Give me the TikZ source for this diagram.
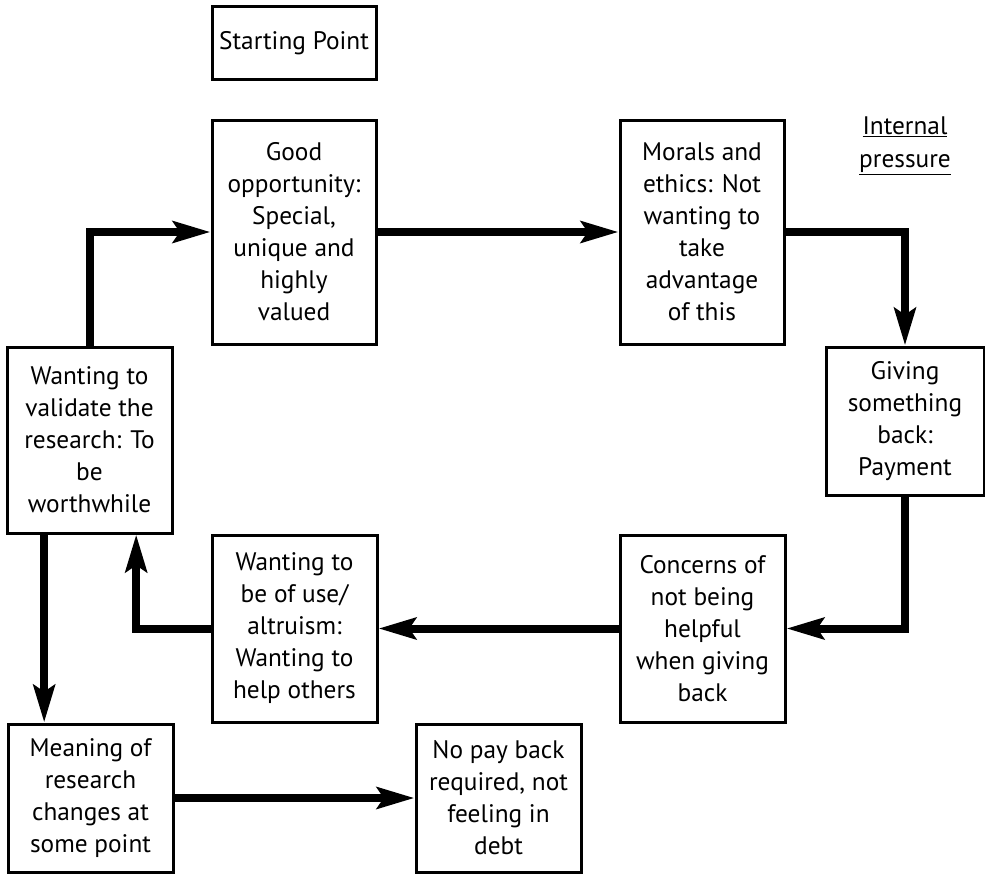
\documentclass[tikz,border=0pt]{standalone}
\usepackage{fontspec}
\setmainfont{PT Sans}
\usetikzlibrary{arrows.meta}
\begin{document}
\begin{tikzpicture}[x=0.75pt,y=-0.75pt,
  box/.style={draw, line width=2.25pt, inner sep=0pt, align=center,
    font=\fontsize{19pt}{24pt}\selectfont},
  conn/.style={line width=6pt, line join=miter,
    -{Stealth[length=28pt,width=16pt,inset=5pt]}},
  lbl/.style={align=center, inner sep=0pt, font=\fontsize{19pt}{25pt}\selectfont}]
\useasboundingbox (0,0) rectangle (985,874);
\node[box, minimum width=123pt, minimum height=54.75pt] (start) at (294,43.5) {Starting Point};
\node[box, minimum width=123pt, minimum height=168pt] (good) at (294,232)
  {Good\\opportunity:\\Special,\\unique and\\highly\\valued};
\node[box, minimum width=123pt, minimum height=168pt] (morals) at (702,232)
  {Morals and\\ethics: Not\\wanting to\\take\\advantage\\of this};
\node[lbl] (internal) at (905,146) {\underline{Internal}\\\underline{pressure}};
\node[box, minimum width=118.5pt, minimum height=111pt] (giving) at (905,421)
  {Giving\\something\\back:\\Payment};
\node[box, minimum width=123.75pt, minimum height=139.5pt] (validate) at (89.5,440)
  {Wanting to\\validate the\\research: To\\be\\worthwhile};
\node[box, minimum width=123.75pt, minimum height=140.25pt] (use) at (294.5,628.5)
  {Wanting to\\be of use/\\altruism:\\Wanting to\\help others};
\node[box, minimum width=123.75pt, minimum height=140.25pt] (concerns) at (702.5,628.5)
  {Concerns of\\not being\\helpful\\when giving\\back};
\node[box, minimum width=123.75pt, minimum height=111pt] (meaning) at (90.5,798)
  {Meaning of\\research\\changes at\\some point};
\node[box, minimum width=123.75pt, minimum height=111pt] (nopay) at (498.5,798)
  {No pay back\\required, not\\feeling in\\debt};
\draw[conn] (validate.north) |- (good.west);
\draw[conn] (good.east) -- (morals.west);
\draw[conn] (morals.east) -| (giving.north);
\draw[conn] (giving.south) |- (concerns.east);
\draw[conn] (concerns.west) -- (use.east);
\draw[conn] (use.west) -| ([xshift=35pt]validate.south);
\draw[conn] ([xshift=-34pt]validate.south) -- ([xshift=-34pt]validate.south |- meaning.north);
\draw[conn] (meaning.east) -- (nopay.west);
\end{tikzpicture}
\end{document}
